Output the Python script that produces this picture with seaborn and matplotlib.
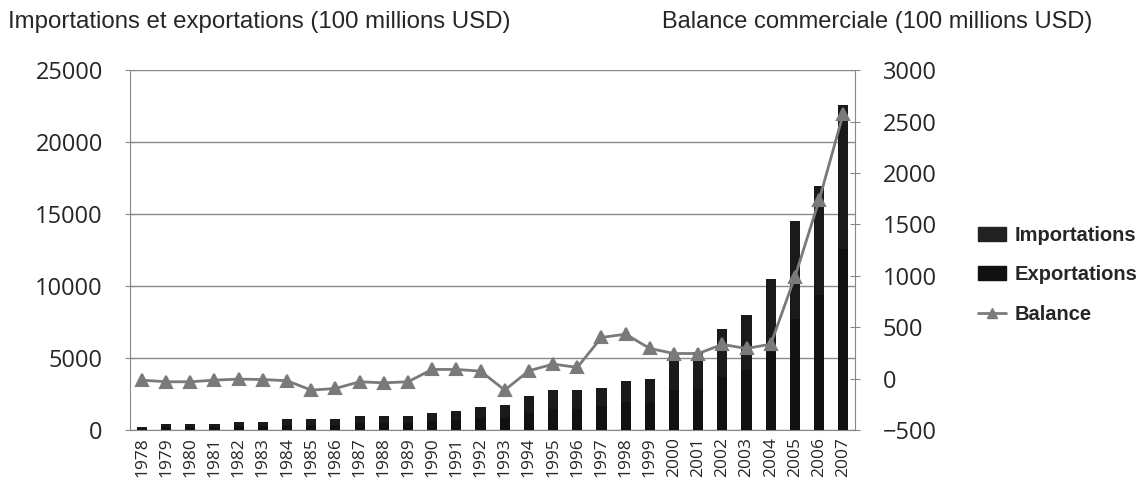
import numpy as np
import pandas as pd
import seaborn as sns
import matplotlib.pyplot as plt
from matplotlib.patches import Patch
from matplotlib.lines import Line2D
from matplotlib.ticker import MultipleLocator

years = [str(y) for y in range(1978, 2008)]
# 100 millions USD
exportations = [108, 195, 195, 203, 288, 286, 382, 344, 352, 470,
                465, 485, 625, 715, 827, 824, 1218, 1461, 1445, 1650,
                1926, 1917, 2787, 2822, 3661, 4162, 5413, 7750, 9353, 12575]
importations = [122, 225, 225, 217, 292, 294, 402, 456, 448, 500,
                505, 515, 535, 625, 753, 936, 1142, 1319, 1335, 1250,
                1494, 1623, 2542, 2578, 3329, 3868, 5077, 6760, 7617, 9995]
balance = [-14, -30, -30, -14, -4, -8, -20, -111, -95, -30,
           -40, -30, 90, 90, 74, -111, 77, 142, 110, 401,
           433, 294, 245, 245, 333, 294, 336, 990, 1736, 2579]

df = pd.DataFrame({"annee": years, "exp": exportations,
                   "imp": importations, "bal": balance})

sns.set_style("white")
plt.rcParams['font.family'] = ['Liberation Sans', 'DejaVu Sans']

fig = plt.figure(figsize=(11.39, 4.91), dpi=100)
ax = fig.add_axes([0.114, 0.124, 0.637, 0.733])

# stacked bars: exports at the bottom, imports on top
sns.barplot(data=df, x="annee", y="exp", color="#111111", width=0.42,
            saturation=1, ax=ax, zorder=3, linewidth=0)
sns.barplot(data=df, x="annee", y="imp", color="#1a1a1a", width=0.42,
            saturation=1, ax=ax, bottom=df["exp"], zorder=3, linewidth=0)

ax.set_ylim(0, 25000)
ax.yaxis.set_major_locator(MultipleLocator(5000))
ax.grid(axis="y", color="#8a8a8a", linewidth=1, zorder=0)
ax.set_xlabel("")
ax.set_ylabel("")
for s in ["top", "right"]:
    ax.spines[s].set_visible(False)
for s in ["left", "bottom"]:
    ax.spines[s].set_color("#888888")
ax.tick_params(axis="y", labelsize=17, direction="inout", length=7,
               color="#888888", pad=16)
for lab in ax.get_yticklabels():
    lab.set_family("Open Sans")
ax.tick_params(axis="x", which="major", length=0, labelsize=12.5,
               labelrotation=90, pad=5)
for lab in ax.get_xticklabels():
    lab.set_family("Open Sans")
ax.set_xticks(np.arange(len(years)) + 0.5, minor=True)
ax.tick_params(axis="x", which="minor", length=5, color="#888888")

ax2 = ax.twinx()
sns.pointplot(data=df, x="annee", y="bal", color="#7a7a7a", markers="^",
              markersize=8, linewidth=2, ax=ax2)
ax2.set_ylim(-500, 3000)
ax2.yaxis.set_major_locator(MultipleLocator(500))
ax2.set_xlim(-0.5, len(years) - 0.5)
ax2.set_ylabel("")
ax2.set_xlabel("")
for s in ["top", "left", "bottom"]:
    ax2.spines[s].set_visible(False)
ax2.spines["right"].set_color("#888888")
ax2.tick_params(axis="y", labelsize=17, direction="inout", length=7,
                color="#888888", pad=16)
for lab in ax2.get_yticklabels():
    lab.set_family("Open Sans")
ax2.grid(False)

fig.text(0.007, 0.955, "Importations et exportations (100 millions USD)",
         fontsize=17.3, ha="left", va="center")
fig.text(0.959, 0.955, "Balance commerciale (100 millions USD)",
         fontsize=17, ha="right", va="center")

handles = [Patch(facecolor="#222222", edgecolor="#222222"),
           Patch(facecolor="#111111", edgecolor="#111111"),
           Line2D([], [], color="#7a7a7a", linewidth=2, marker="^",
                  markersize=7)]
fig.legend(handles, ["Importations", "Exportations", "Balance"],
           loc="center left", bbox_to_anchor=(0.843, 0.44), frameon=False,
           prop={"size": 14.5, "weight": "bold"}, labelspacing=1.0,
           handlelength=1.4, handletextpad=0.4)

fig.savefig("out.png", dpi=100)
